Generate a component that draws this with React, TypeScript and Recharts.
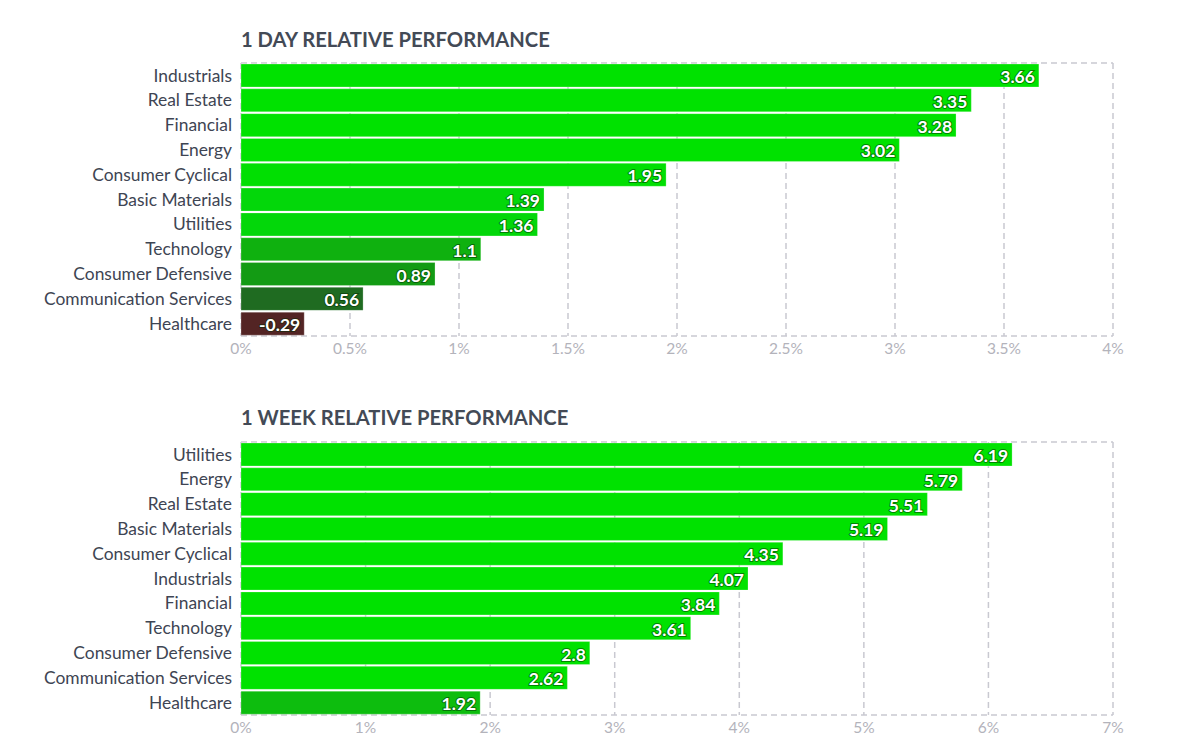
import React from "react";
import { BarChart, Bar, XAxis, YAxis, CartesianGrid, Cell, LabelList } from "recharts";

const dayCategories = [
  "Industrials", "Real Estate", "Financial", "Energy", "Consumer Cyclical",
  "Basic Materials", "Utilities", "Technology", "Consumer Defensive",
  "Communication Services", "Healthcare",
];
const dayValues = [3.66, 3.35, 3.28, 3.02, 1.95, 1.39, 1.36, 1.1, 0.89, 0.56, -0.29];
const dayColors = [
  "#00e200", "#00e200", "#00e200", "#00e200", "#01df02",
  "#03d70a", "#03d70a", "#0fb10f", "#139b14", "#1f6b21", "#532424",
];
const dayTicks = [0, 0.5, 1, 1.5, 2, 2.5, 3, 3.5, 4];

const weekCategories = [
  "Utilities", "Energy", "Real Estate", "Basic Materials", "Consumer Cyclical",
  "Industrials", "Financial", "Technology", "Consumer Defensive",
  "Communication Services", "Healthcare",
];
const weekValues = [6.19, 5.79, 5.51, 5.19, 4.35, 4.07, 3.84, 3.61, 2.8, 2.62, 1.92];
const weekColors = [
  "#00e200", "#00e200", "#00e200", "#00e200", "#00e200",
  "#00e200", "#00e200", "#00e200", "#00e200", "#00e200", "#0dbd0e",
];
const weekTicks = [0, 1, 2, 3, 4, 5, 6, 7];

const FONT = "Lato, 'Noto Sans', sans-serif";

const BarLabel = (props: any) => {
  const { x, y, width, height, value } = props;
  return (
    <text
      x={x + width - 4}
      y={y + height / 2 + 1}
      textAnchor="end"
      dominantBaseline="central"
      fill="#ffffff"
      fontWeight="bold"
      fontSize={17.5}
      stroke="rgba(0,40,0,0.5)"
      strokeWidth={2}
      paintOrder="stroke"
      style={{ fontFamily: FONT }}
    >
      {value}
    </text>
  );
};

function PerfChart(props: {
  categories: string[];
  values: number[];
  colors: string[];
  ticks: number[];
  top: number;
  marginTop: number;
  marginBottom: number;
}) {
  const { categories, values, colors, ticks, top, marginTop, marginBottom } = props;
  const data = categories.map((name, i) => ({
    name,
    length: Math.abs(values[i]),
    label: values[i],
  }));
  return (
    <div style={{ position: "absolute", left: 0, top }}>
      <BarChart
        width={1200}
        height={375}
        data={data}
        layout="vertical"
        margin={{ top: marginTop, right: 87, bottom: marginBottom, left: 0 }}
        barCategoryGap={1}
      >
        <CartesianGrid
          stroke="#c9c9d1"
          strokeDasharray="6 4"
          strokeWidth={1.5}
          horizontalCoordinatesGenerator={(p: any) => [p.offset.top, p.offset.top + p.offset.height]}
        />
        <XAxis
          type="number"
          domain={[ticks[0], ticks[ticks.length - 1]]}
          ticks={ticks}
          tickFormatter={(v: number) => `${v}%`}
          axisLine={false}
          tickLine={false}
          tick={{ fill: "#b3b3bb", fontSize: 15.5 }}
          tickMargin={1}
          height={25}
          interval={0}
        />
        <YAxis
          type="category"
          dataKey="name"
          width={241}
          axisLine={false}
          tickLine={false}
          tick={{ fill: "#3e4553", fontSize: 17.4 }}
          tickMargin={3}
          interval={0}
        />
        <Bar dataKey="length" isAnimationActive={false} stroke="rgba(255,255,255,0.25)" strokeWidth={1}>
          {data.map((d, i) => (
            <Cell key={d.name} fill={colors[i]} />
          ))}
          <LabelList dataKey="label" content={BarLabel} />
        </Bar>
      </BarChart>
    </div>
  );
}

export default function App() {
  return (
    <div
      style={{
        position: "absolute",
        left: 0,
        top: 0,
        width: 1200,
        height: 750,
        background: "#ffffff",
        fontFamily: FONT,
      }}
    >
      <div
        style={{
          position: "absolute",
          left: 241,
          top: 27,
          fontSize: 20.2,
          fontWeight: "bold",
          color: "#434a56",
          lineHeight: "24px",
          whiteSpace: "nowrap",
        }}
      >
        1 DAY RELATIVE PERFORMANCE
      </div>
      <div
        style={{
          position: "absolute",
          left: 241,
          top: 405,
          fontSize: 20.2,
          fontWeight: "bold",
          color: "#434a56",
          lineHeight: "24px",
          whiteSpace: "nowrap",
        }}
      >
        1 WEEK RELATIVE PERFORMANCE
      </div>
      <PerfChart
        categories={dayCategories}
        values={dayValues}
        colors={dayColors}
        ticks={dayTicks}
        top={0}
        marginTop={63}
        marginBottom={14}
      />
      <PerfChart
        categories={weekCategories}
        values={weekValues}
        colors={weekColors}
        ticks={weekTicks}
        top={375}
        marginTop={67}
        marginBottom={10}
      />
    </div>
  );
}
